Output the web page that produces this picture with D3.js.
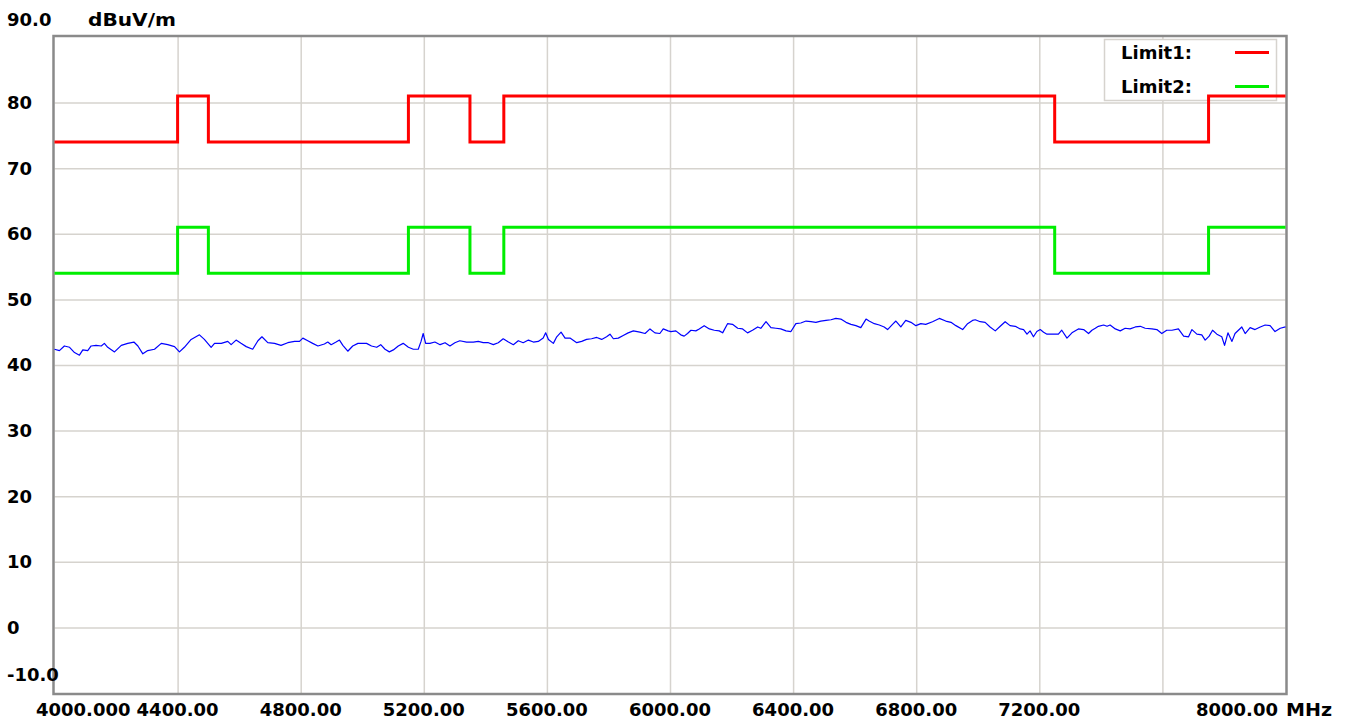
<!DOCTYPE html>
<html><head><meta charset="utf-8">
<script src="https://cdn.jsdelivr.net/npm/d3@7"></script>
<style>
html,body{margin:0;padding:0;background:#fff;}
svg{display:block;}
text{font-family:"DejaVu Sans",sans-serif;font-weight:bold;font-size:18px;fill:#000;}
</style>
</head><body>
<svg id="chart" width="1351" height="722"></svg>
<script>
// ---- data ----
const xTickValues = [4000,4400,4800,5200,5600,6000,6400,6800,7200,7600,8000];
const xTickLabels = ["4000.000","4400.00","4800.00","5200.00","5600.00","6000.00","6400.00","6800.00","7200.00","","8000.00"];
const xUnit = "MHz";
const yTickValues = [90,80,70,60,50,40,30,20,10,0,-10];
const yTickLabels = ["90.0","80","70","60","50","40","30","20","10","0","-10.0"];
const yUnit = "dBuV/m";

const limitEdges = [4000,4400,4500,5150,5350,5460,7250,7750,8000];
const limit1Levels = [74,81,74,81,74,81,74,81];
const limit2Levels = [54,61,54,61,54,61,54,61];
const legendNames = ["Limit1:","Limit2:"];

const traceFreqs = [
4000,4016,4032,4049,4065,4081,4092,4108,4119,4135,
4152,4162,4173,4195,4217,4238,4258,4271,4287,4303,
4325,4347,4368,4390,4406,4422,4444,4471,4487,4509,
4520,4542,4563,4574,4590,4606,4623,4644,4661,4674,
4693,4715,4736,4758,4780,4796,4807,4823,4839,4856,
4877,4888,4899,4915,4926,4937,4953,4969,4986,5007,
5014,5030,5047,5060,5074,5088,5101,5117,5133,5150,
5166,5182,5191,5198,5206,5220,5236,5253,5269,5285,
5301,5317,5339,5361,5377,5393,5410,5426,5442,5458,
5475,5491,5507,5523,5540,5556,5572,5588,5596,5605,
5621,5632,5646,5659,5675,5697,5713,5729,5745,5762,
5778,5794,5805,5816,5832,5848,5864,5881,5902,5919,
5935,5951,5967,5978,5994,
6003,6019,6035,6046,6057,6068,6084,6095,6111,6128,
6144,6160,6171,6187,6203,6220,6236,6252,6268,6285,
6295,6312,6328,6344,6360,6377,6393,6409,6425,6442,
6458,6474,6490,6507,6523,6539,6555,6572,6588,6604,
6620,6637,6647,6664,6680,6696,6707,6723,6734,6750,
6766,6783,6799,6815,6831,6853,6875,6896,6913,6929,
6951,6967,6983,
6992,7008,7024,7040,7057,7073,7089,7105,7122,7138,
7149,7160,7170,7181,7192,7203,7214,7225,7241,7262,
7273,7290,7306,7327,7344,7360,7371,7382,7392,7409,
7420,7430,7447,7463,7479,7495,7512,7528,7544,7566,
7582,7598,7614,7631,7652,7669,7685,7696,7712,7728,
7739,7752,7763,7777,7793,7802,7813,7826,7836,7847,
7858,7869,7885,7901,7918,7934,7950,7966,7983,8000
];
const traceLevels = [
42.4,42.2,42.9,42.7,41.9,41.5,42.3,42.2,42.9,43.0,
42.9,43.3,42.7,42.0,43.0,43.3,43.5,42.9,41.7,42.2,
42.4,43.3,43.1,42.8,42.0,42.7,43.9,44.6,43.9,42.7,
43.3,43.3,43.6,43.1,43.8,43.3,42.8,42.4,43.7,44.3,
43.4,43.3,43.0,43.4,43.6,43.6,44.1,43.7,43.3,42.9,
43.2,43.5,43.1,43.5,43.8,43.0,42.1,42.9,43.3,43.3,
43.3,42.9,42.7,43.1,42.4,42.0,42.3,42.9,43.3,42.7,
42.4,42.4,43.6,44.8,43.3,43.3,43.5,43.1,43.4,42.9,
43.4,43.7,43.5,43.5,43.6,43.4,43.4,43.1,43.4,44.0,
43.5,43.1,43.7,43.4,43.8,43.5,43.6,44.1,44.9,43.9,
43.3,44.3,45.0,44.1,44.1,43.4,43.6,43.9,44.0,44.2,
43.9,44.3,44.7,44.0,44.1,44.5,44.9,45.2,45.0,44.8,
45.5,44.9,44.8,45.5,45.2,
45.1,45.2,44.6,44.4,44.8,45.3,45.2,45.5,46.0,45.5,
45.3,45.2,44.9,46.3,46.2,45.6,45.5,44.9,45.3,45.8,
45.6,46.6,45.7,45.6,45.5,45.2,45.1,46.3,46.4,46.7,
46.6,46.5,46.7,46.8,46.9,47.1,47.0,46.5,46.2,46.0,
45.7,47.0,46.7,46.3,46.1,45.8,45.4,46.2,46.7,45.8,
46.8,46.5,46.0,46.3,46.2,46.6,47.1,46.7,46.5,46.0,
45.4,46.3,46.8,
46.9,46.6,46.5,45.8,45.2,45.9,46.6,46.0,45.9,45.5,
45.4,44.7,45.2,44.3,45.1,45.4,45.0,44.7,44.7,44.7,
45.3,44.1,44.9,45.5,45.4,44.8,45.3,45.6,45.9,46.1,
45.9,46.1,45.5,45.2,45.6,45.5,45.8,45.9,45.6,45.5,
45.4,44.8,45.3,45.3,45.5,44.4,44.3,45.4,44.7,44.6,
43.8,44.4,45.3,44.7,44.3,43.0,44.9,43.6,44.8,45.3,
45.8,44.8,45.7,45.4,45.8,46.1,46.0,45.1,45.6,45.8
];

// ---- drawing ----
const svg = d3.select("#chart");
const L = 54.5, R = 1285.5, T = 37, B = 693;
const x = d3.scaleLinear().domain([4000,8000]).range([L,R]);
const y = d3.scaleLinear().domain([-10,90]).range([B,T]);

svg.append("rect").attr("width",1351).attr("height",722).attr("fill","#fff");

// gridlines via axes
const gx = svg.append("g").attr("transform",`translate(0,${B})`)
  .call(d3.axisBottom(x).tickValues(xTickValues.slice(1,-1)).tickSize(-(B-T)).tickFormat(""));
const gy = svg.append("g").attr("transform",`translate(${L},0)`)
  .call(d3.axisLeft(y).tickValues(yTickValues.slice(1,-1)).tickSize(-(R-L)).tickFormat(""));
[gx,gy].forEach(g=>{
  g.select(".domain").remove();
  g.selectAll(".tick line").attr("stroke","#d6d3ce").attr("stroke-width",1.5);
});

// legend box (covers gridlines)
const lg = svg.append("g");
lg.append("rect").attr("x",1104.5).attr("y",39.5).attr("width",172).attr("height",61)
  .attr("fill","#fff").attr("stroke","#d6d3ce").attr("stroke-width",1.5);

// plot border
svg.append("rect").attr("x",L-1).attr("y",T-1).attr("width",R-L+2).attr("height",B-T+2)
  .attr("fill","none").attr("stroke","#8a8a8a").attr("stroke-width",2.5);

// limit lines
const stepLine = d3.line().x(d=>x(d[0])).y(d=>y(d[1])).curve(d3.curveStepAfter);
function stepPoints(levels){
  const pts = levels.map((v,i)=>[limitEdges[i],v]);
  pts.push([limitEdges[limitEdges.length-1], levels[levels.length-1]]);
  return pts;
}
const limitColors = ["#ff0000","#00ee00"];
[limit1Levels,limit2Levels].forEach((lv,i)=>{
  svg.append("path").attr("d",stepLine(stepPoints(lv)))
    .attr("fill","none").attr("stroke",limitColors[i]).attr("stroke-width",3);
});

// trace
const traceLine = d3.line().x((d,i)=>x(traceFreqs[i])).y(d=>y(d));
svg.append("path").attr("d",traceLine(traceLevels))
  .attr("fill","none").attr("stroke","#0000ff").attr("stroke-width",1.2)
  .attr("stroke-linejoin","round");

// legend entries
legendNames.forEach((n,i)=>{
  const cy = 53 + i*34;
  lg.append("text").attr("x",1121).attr("y",cy).attr("dy","0.36em").text(n);
  lg.append("line").attr("x1",1235).attr("x2",1269).attr("y1",cy-0.5).attr("y2",cy-0.5)
    .attr("stroke",limitColors[i]).attr("stroke-width",3);
});

// y labels
yTickValues.forEach((v,i)=>{
  let yy = y(v);
  if (i===0) yy = 20;
  if (i===yTickValues.length-1) yy = 675;
  svg.append("text").attr("x",7).attr("y",yy).attr("dy","0.36em").text(yTickLabels[i]);
});
svg.append("text").attr("x",88).attr("y",20).attr("dy","0.36em")
  .attr("textLength",88).attr("lengthAdjust","spacingAndGlyphs").text(yUnit);

// x labels
xTickValues.forEach((v,i)=>{
  if (!xTickLabels[i]) return;
  let anchor = "middle", xx = x(v);
  if (i===0){ anchor="start"; xx = x(v)-18.5; }
  if (i===xTickValues.length-1){ anchor="end"; xx = x(v)-7.5; }
  svg.append("text").attr("x",xx).attr("y",710).attr("dy","0.36em")
    .attr("text-anchor",anchor).text(xTickLabels[i]);
});
svg.append("text").attr("x",R+0.5).attr("y",710).attr("dy","0.36em")
  .attr("textLength",46).attr("lengthAdjust","spacingAndGlyphs").text(xUnit);
</script>
</body></html>
